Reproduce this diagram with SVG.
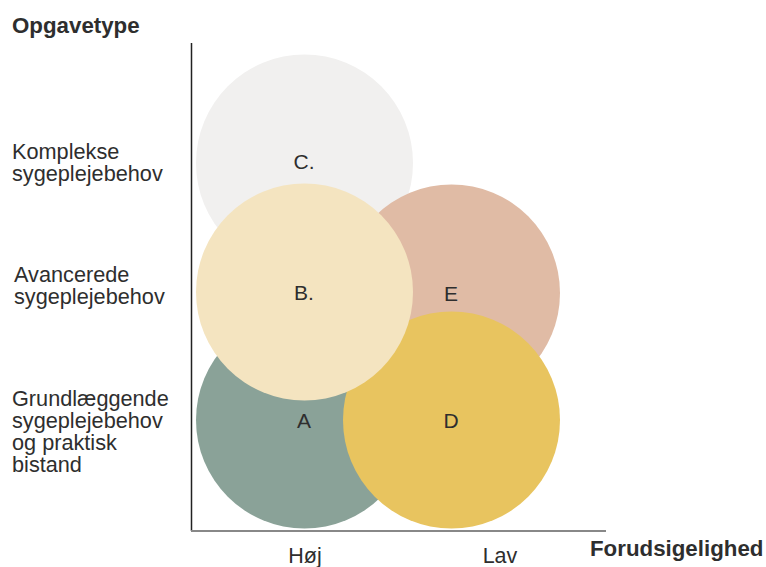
<svg xmlns="http://www.w3.org/2000/svg" width="766" height="567" viewBox="0 0 766 567">
<style>
text{font-family:"Liberation Sans",Arial,sans-serif;fill:#2e2e2e}
.t{font-size:22.3px;font-weight:bold}
.l{font-size:21.7px}
.c{font-size:21px;text-anchor:middle}
.x{font-size:21.5px;text-anchor:middle}
</style>
<rect width="766" height="567" fill="#fff"/>
<text class="t" x="12" y="33">Opgavetype</text>
<text class="t" x="590" y="556">Forudsigelighed</text>
<g id="labels-y">
<text class="l" x="12" y="159">Komplekse</text>
<text class="l" x="12" y="181">sygeplejebehov</text>
<text class="l" x="14" y="282">Avancerede</text>
<text class="l" x="14" y="304">sygeplejebehov</text>
<text class="l" x="12" y="406">Grundlæggende</text>
<text class="l" x="12" y="428">sygeplejebehov</text>
<text class="l" x="12" y="450">og praktisk</text>
<text class="l" x="12" y="472">bistand</text>
</g>
<g id="labels-x">
<text class="x" x="305" y="563">Høj</text>
<text class="x" x="500" y="563">Lav</text>
</g>
<g id="C"><circle cx="304.5" cy="163" r="108.5" fill="#f1f0ef"/><text class="c" x="304" y="169">C.</text></g>
<g id="E"><circle cx="451.5" cy="293" r="108.5" fill="#e0bba5"/><text class="c" x="451" y="301">E</text></g>
<g id="A"><circle cx="304.5" cy="420" r="108.5" fill="#8aa298"/><text class="c" x="304" y="428">A</text></g>
<g id="D"><circle cx="451.5" cy="420" r="108.5" fill="#e8c45f"/><text class="c" x="451" y="428">D</text></g>
<g id="B"><circle cx="304.5" cy="292" r="108.5" fill="#f4e4c0"/><text class="c" x="304" y="300">B.</text></g>
<g id="axes">
<line x1="191.5" y1="43" x2="191.5" y2="531" stroke="#222" stroke-width="1.5"/>
<line x1="191" y1="531" x2="606" y2="531" stroke="#888" stroke-width="2"/>
</g>
</svg>
